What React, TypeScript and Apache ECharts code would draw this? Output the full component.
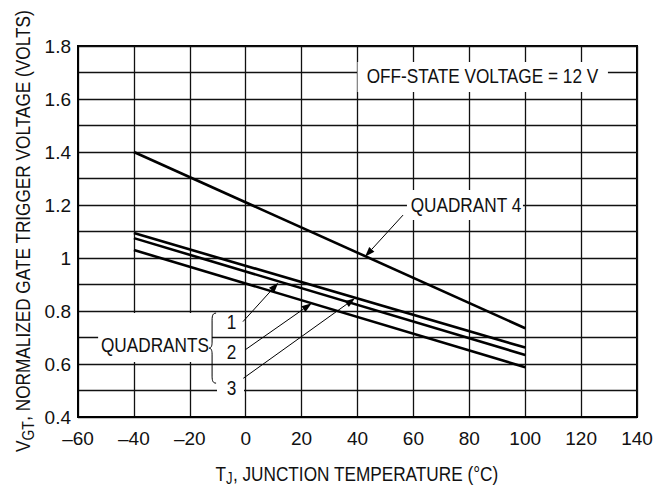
import React, { useEffect, useRef } from 'react';
import * as echarts from 'echarts';

// ---- data ----
const lineX = [-40, 100];
const quadrant4 = [1.4, 0.735];
const quadrant3 = [1.094, 0.662];
const quadrant1 = [1.075, 0.634];
const quadrant2 = [1.03, 0.588];

const xMin = -60;
const xMax = 140;
const xStep = 20;
const yMin = 0.4;
const yMax = 1.8;
const yStep = 0.1;

const FONT = '"Liberation Sans", Arial, Helvetica, sans-serif';
const FS = 21;
const TICK_FS = 19;
const SX = 0.82;
const INK = '#111';

function pairs(ys: number[]) {
  return lineX.map((x, i) => [x, ys[i]]);
}

const braceD =
  'M7 0 C4 0 3 2 3 7 L3 29 C3 33 2 35 0 35 C2 35 3 37 3 41 L3 63 C3 68 4 70 7 70';
echarts.graphic.registerShape('brace', echarts.graphic.extendPath(braceD, {}));

export default function App() {
  const ref = useRef<HTMLDivElement>(null);

  useEffect(() => {
    document.body.style.margin = '0';
    const chart = echarts.init(ref.current!, null, { renderer: 'svg' });
    const lineStyle = { color: '#000', width: 2.6 };
    const mk = (name: string, ys: number[]) => ({
      name,
      type: 'line',
      data: pairs(ys),
      symbol: 'none',
      lineStyle,
      z: 5,
    });
    chart.setOption({
      animation: false,
      backgroundColor: '#fff',
      grid: {
        left: 78,
        top: 46,
        width: 559,
        height: 371,
        show: true,
        borderColor: '#000',
        borderWidth: 2,
      },
      xAxis: {
        type: 'value',
        min: xMin,
        max: xMax,
        interval: xStep,
        axisLine: { show: true, onZero: false, lineStyle: { color: '#000', width: 2 } },
        axisTick: { show: false },
        splitLine: { show: true, lineStyle: { color: '#111', width: 1.3 } },
        axisLabel: {
          margin: 12,
          color: INK,
          fontFamily: FONT,
          fontSize: TICK_FS,
          formatter: (v: number) => (v < 0 ? '\u2013' + Math.abs(v) : String(v)),
        },
      },
      yAxis: {
        type: 'value',
        min: yMin,
        max: yMax,
        interval: yStep,
        axisLine: { show: true, onZero: false, lineStyle: { color: '#000', width: 2 } },
        axisTick: { show: false },
        splitLine: { show: true, lineStyle: { color: '#111', width: 1.3 } },
        axisLabel: {
          margin: 7,
          color: INK,
          fontFamily: FONT,
          fontSize: TICK_FS,
          formatter: (v: number) => {
            const r = Math.round(v * 10);
            if (r % 2 !== 0) return '';
            return String(r / 10);
          },
        },
      },
      series: [
        mk('Quadrant 4', quadrant4),
        mk('Quadrant 3', quadrant3),
        mk('Quadrant 1', quadrant1),
        mk('Quadrant 2', quadrant2),
      ],
    });

    const P = (x: number, y: number) => chart.convertToPixel({ gridIndex: 0 }, [x, y]) as number[];

    const txt = (p: number[], text: string) => ({
      type: 'text',
      x: p[0],
      y: p[1],
      scaleX: SX,
      z: 120,
      style: {
        text,
        fill: INK,
        fontFamily: FONT,
        fontSize: FS,
        align: 'center',
        verticalAlign: 'middle',
        textAlign: 'center',
        textVerticalAlign: 'middle',
      },
    });
    const box = (a: number[], b: number[]) => ({
      type: 'rect',
      z: 110,
      shape: { x: a[0], y: a[1], width: b[0] - a[0], height: b[1] - a[1] },
      style: { fill: '#fff' },
    });
    const arrow = (tail: number[], tip: number[]) => {
      const dx = tip[0] - tail[0];
      const dy = tip[1] - tail[1];
      const L = Math.hypot(dx, dy);
      const ux = dx / L;
      const uy = dy / L;
      const hl = 10;
      const hw = 3.5;
      const bx = tip[0] - ux * hl;
      const by = tip[1] - uy * hl;
      const nx = -uy;
      const ny = ux;
      return [
        {
          type: 'line',
          z: 120,
          shape: { x1: tail[0], y1: tail[1], x2: bx, y2: by },
          style: { stroke: '#000', lineWidth: 1 },
        },
        {
          type: 'polygon',
          z: 120,
          shape: {
            points: [
              [tip[0], tip[1]],
              [bx + nx * hw, by + ny * hw],
              [bx - nx * hw, by - ny * hw],
            ],
          },
          style: { fill: '#000' },
        },
      ];
    };

    const rich = (sub: number) => ({
      m: { fontFamily: FONT, fontSize: FS, fill: INK, color: INK },
      s: { fontFamily: FONT, fontSize: sub, fill: INK, color: INK, padding: [9, 0, 0, 0] },
    });

    const braceTop = P(-13.1, 0.792);
    const elements: any[] = [
      // OFF-STATE label
      box(P(40, 1.74), P(129.6, 1.626)),
      txt(P(84.7, 1.687), 'OFF-STATE VOLTAGE = 12 V'),
      // QUADRANT 4
      box(P(57.7, 1.257), P(99.2, 1.143)),
      txt(P(78.8, 1.202), 'QUADRANT 4'),
      ...arrow(P(56.3, 1.162), P(42.7, 1.005)),
      // QUADRANTS group
      box(P(-52.8, 0.792), P(-12.06, 0.6075)),
      txt(P(-32.45, 0.672), 'QUADRANTS'),
      {
        type: 'brace',
        z: 120,
        x: braceTop[0],
        y: braceTop[1],
        style: { stroke: '#000', fill: null, lineWidth: 1 },
      },
      box(P(-10.27, 0.547), P(-0.61, 0.464)),
      txt(P(-5.1, 0.758), '1'),
      txt(P(-5.1, 0.645), '2'),
      txt(P(-5.1, 0.508), '3'),
      ...arrow(P(-0.97, 0.76), P(11.67, 0.907)),
      ...arrow(P(-0.25, 0.653), P(23.6, 0.829)),
      ...arrow(P(-0.86, 0.546), P(39.1, 0.848)),
      // axis titles
      {
        type: 'text',
        x: 357,
        y: 474,
        z: 120,
        scaleX: SX,
        style: {
          text: '{m|T}{s|J}{m|, JUNCTION TEMPERATURE (\u00B0C)}',
          rich: rich(16),
          align: 'center',
          verticalAlign: 'middle',
          textAlign: 'center',
          textVerticalAlign: 'middle',
          fill: INK,
          fontFamily: FONT,
          fontSize: FS,
        },
      },
      {
        type: 'text',
        x: 23,
        y: 231,
        z: 120,
        rotation: Math.PI / 2,
        scaleX: SX,
        style: {
          text: '{m|V}{s|GT}{m|, NORMALIZED GATE TRIGGER VOLTAGE (VOLTS)}',
          rich: rich(17),
          align: 'center',
          verticalAlign: 'middle',
          textAlign: 'center',
          textVerticalAlign: 'middle',
          fill: INK,
          fontFamily: FONT,
          fontSize: FS,
        },
      },
    ];
    chart.setOption({ graphic: { elements } });

    return () => chart.dispose();
  }, []);

  return <div ref={ref} style={{ width: 666, height: 492 }} />;
}
